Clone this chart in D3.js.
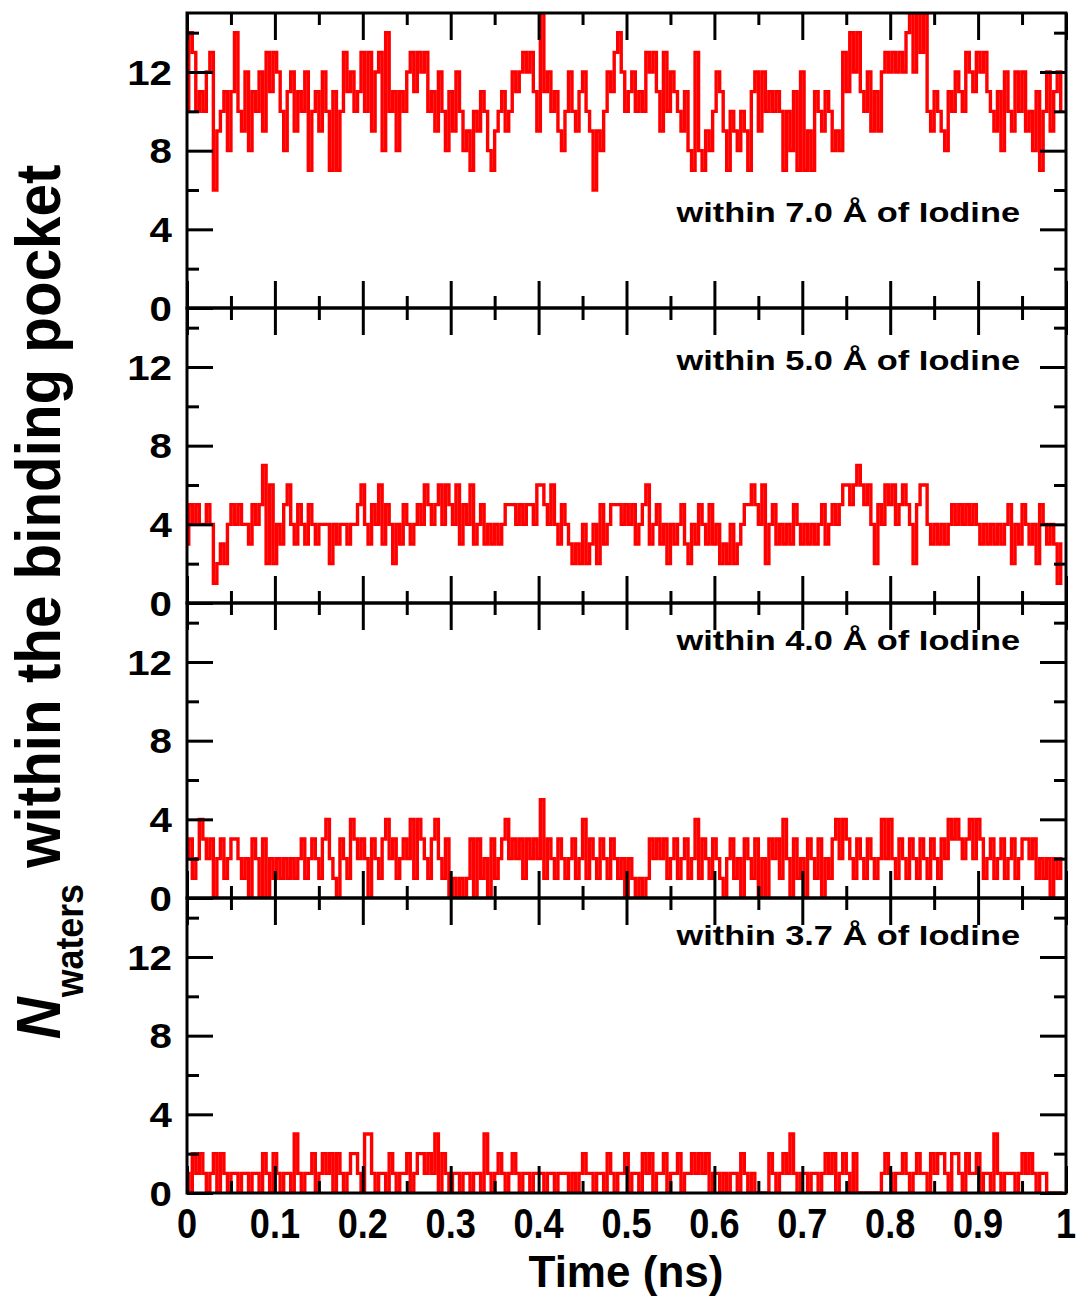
<!DOCTYPE html>
<html>
<head>
<meta charset="utf-8">
<script src="https://cdn.jsdelivr.net/npm/d3@7"></script>
<style>
  body { margin: 0; background: #fff; }
  svg text { font-family: "Liberation Sans", Arial, Helvetica, sans-serif; font-weight: bold; fill: #000; }
</style>
</head>
<body>
<div id="chart"></div>
<script>
// ------------------------------------------------------------
// N waters within the binding pocket vs time, four cut-offs
// ------------------------------------------------------------

// frames are read every 0.004 ns from the trace
const dt = 0.004;

// within 7.0 A
const within70 = [
  10,14,13,10,11,10,12,13,6,9,   10,11,8,11,14,10,9,12,8,11,
  10,12,9,13,11,13,12,10,8,11,   12,9,11,10,12,7,10,11,9,12,
  10,7,11,7,10,13,11,12,10,11,   13,10,13,9,12,13,8,14,10,11,
  8,11,10,12,13,11,13,12,13,10,  11,9,12,10,8,11,9,12,10,8,
  9,7,10,9,11,10,8,7,9,10,       11,9,10,12,11,12,13,12,13,11,
  9,15,11,12,10,11,9,8,10,12,    10,9,11,12,10,9,6,9,8,10,
  12,11,13,14,12,10,11,12,10,11, 10,13,12,13,11,9,13,10,12,11,
  10,9,11,8,7,13,8,7,9,8,        10,12,11,9,7,10,9,8,10,9,
  7,11,12,9,12,10,11,10,11,10,   7,10,8,11,7,12,7,9,7,11,
  10,9,11,10,8,9,8,13,11,14,     12,14,11,10,12,9,11,9,12,13,
  12,13,12,13,12,14,15,12,15,13, 15,10,9,11,10,9,8,11,10,12,
  11,10,13,12,11,13,12,13,11,10, 9,11,8,12,10,9,12,10,12,9,
  10,8,11,7,10,12,9,11,12,10
];

// within 5.0 A
const within50 = [
  3,5,4,5,4,4,5,4,1,2,  3,2,4,5,4,5,4,4,3,5,
  4,5,7,2,6,2,4,3,5,6,  4,3,5,4,3,5,4,3,4,4,
  4,2,4,3,4,4,3,4,4,5,  6,4,3,5,4,6,3,5,4,2,
  4,3,5,4,3,4,5,4,6,5,  4,5,6,4,6,5,4,6,3,5,
  4,6,3,4,5,3,4,3,4,3,  4,5,5,5,4,5,4,5,5,4,
  6,6,5,4,6,4,3,5,4,3,  2,3,2,4,2,3,4,2,5,3,
  4,5,5,5,4,5,4,5,3,4,  5,6,3,4,5,3,4,2,4,3,
  4,5,3,2,4,3,5,4,3,5,  3,4,2,3,2,4,2,3,4,5,
  5,6,5,4,6,2,4,5,3,4,  3,4,3,5,4,3,4,3,4,3,
  4,5,3,4,5,4,5,6,6,5,  6,7,6,5,6,4,2,5,4,6,
  5,6,4,5,6,5,4,2,5,6,  6,4,3,4,3,4,3,4,5,4,
  5,4,5,4,5,4,3,4,3,4,  3,4,3,4,5,2,4,3,5,4,
  3,4,2,5,4,3,4,3,1,3
];

// within 4.0 A
const within40 = [
  2,3,1,2,4,3,2,3,0,2,  3,1,2,3,3,2,1,2,0,3,
  2,0,3,0,2,1,2,1,2,1,  2,1,2,3,1,2,3,2,1,3,
  4,2,1,0,3,2,1,4,3,2,  3,2,0,3,2,1,3,4,2,3,
  1,2,3,2,4,1,4,3,2,1,  3,4,2,1,3,0,1,0,1,0,
  1,3,0,3,1,2,0,3,1,2,  3,4,2,3,2,3,1,3,2,3,
  2,5,1,3,2,1,3,2,1,2,  3,1,2,4,1,3,2,1,3,2,
  1,3,2,1,2,0,2,1,0,1,  0,1,3,2,3,2,3,1,2,3,
  1,2,3,1,2,4,1,3,2,1,  3,2,1,0,2,3,1,2,0,3,
  2,1,3,0,2,0,3,2,3,1,  4,2,0,3,1,2,0,3,2,1,
  3,0,2,1,3,4,2,4,3,2,  1,3,2,1,3,2,1,2,4,2,
  4,2,1,3,2,1,3,2,1,3,  2,1,3,2,1,3,2,4,3,4,
  3,2,3,4,2,4,3,1,2,3,  1,2,3,1,2,3,1,2,3,3,
  2,3,1,2,1,2,0,2,1,2
];

// within 3.7 A
const within37 = [
  1,0,2,1,2,1,0,1,2,0,  2,1,0,1,1,0,1,1,0,1,
  1,0,2,1,0,2,1,0,1,1,  0,3,1,0,1,1,2,0,1,2,
  1,2,0,2,1,0,1,2,2,1,  0,3,3,1,0,1,1,0,2,1,
  0,1,1,2,0,1,2,2,1,2,  1,3,0,2,1,0,1,1,0,1,
  1,0,1,1,0,3,1,0,1,2,  1,0,1,2,1,0,1,1,0,1,
  1,1,0,1,1,0,1,1,1,0,  1,0,1,2,1,1,0,1,1,0,
  2,1,0,1,1,2,0,1,1,0,  2,1,2,0,1,1,2,0,1,1,
  2,0,1,1,2,1,2,1,2,0,  1,1,0,1,0,1,1,0,2,1,
  0,1,0,0,0,0,2,1,0,1,  2,1,3,1,0,1,1,0,1,1,
  0,1,2,1,2,0,1,2,1,0,  2,0,0,0,0,0,0,0,1,2,
  1,0,1,1,2,1,0,1,2,1,  1,0,2,1,2,2,1,0,2,2,
  1,0,2,1,1,2,0,1,1,0,  3,1,0,1,1,1,0,1,2,1,
  2,1,0,1,1,0,0,0,0,0
];

const panelSeries = [within70, within50, within40, within37];
const panelLabels = [
  "within 7.0 Å of Iodine",
  "within 5.0 Å of Iodine",
  "within 4.0 Å of Iodine",
  "within 3.7 Å of Iodine"
];

const xTicks = [0, 0.1, 0.2, 0.3, 0.4, 0.5, 0.6, 0.7, 0.8, 0.9, 1];
const xTickLabels = ["0", "0.1", "0.2", "0.3", "0.4", "0.5", "0.6", "0.7", "0.8", "0.9", "1"];
const xMinorTicks = [0.05, 0.15, 0.25, 0.35, 0.45, 0.55, 0.65, 0.75, 0.85, 0.95];
const yTicks = [0, 4, 8, 12];
const yMinorTicks = [2, 6, 10, 14];

// layout (pixels)
const W = 1080, H = 1297;
const plotLeft = 187, plotRight = 1066;
const firstTop = 13, panelH = 295;
const labelBaselines = [222, 370, 650, 945];

const svg = d3.select("#chart").append("svg")
    .attr("width", W)
    .attr("height", H);

const x = d3.scaleLinear().domain([0, 1]).range([plotLeft, plotRight]);

// stretch/squeeze a text node so its box is targetW wide
function fitText(textSel, targetW) {
    const w = textSel.node().getBBox().width;
    textSel.attr("transform", `scale(${targetW / w},1)`);
}

const defs = svg.append("defs");

panelSeries.forEach((series, i) => {
    const top = firstTop + i * panelH;
    const y = d3.scaleLinear().domain([0, 15]).range([top + panelH, top]);

    defs.append("clipPath").attr("id", "clip" + i)
        .append("rect")
        .attr("x", plotLeft).attr("y", top)
        .attr("width", plotRight - plotLeft).attr("height", panelH);

    const line = d3.line()
        .x((d, j) => x(j * dt))
        .y(d => y(d))
        .curve(d3.curveStep);

    svg.append("path")
        .datum(series)
        .attr("clip-path", `url(#clip${i})`)
        .attr("fill", "none")
        .attr("stroke", "#ff0000")
        .attr("stroke-width", 3.4)
        .attr("d", line);

    // inward ticks on all four sides
    const g = svg.append("g").attr("class", "ticks");
    const tickStyle = sel => {
        sel.select(".domain").remove();
        sel.selectAll("text").remove();
        sel.selectAll("line").attr("stroke", "#000").attr("stroke-width", 3);
    };
    g.append("g").attr("transform", `translate(0,${top + panelH})`)
        .call(d3.axisBottom(x).tickValues(xTicks).tickSize(-27)).call(tickStyle);
    g.append("g").attr("transform", `translate(0,${top + panelH})`)
        .call(d3.axisBottom(x).tickValues(xMinorTicks).tickSize(-12)).call(tickStyle);
    g.append("g").attr("transform", `translate(0,${top})`)
        .call(d3.axisTop(x).tickValues(xTicks).tickSize(-27)).call(tickStyle);
    g.append("g").attr("transform", `translate(0,${top})`)
        .call(d3.axisTop(x).tickValues(xMinorTicks).tickSize(-12)).call(tickStyle);
    g.append("g").attr("transform", `translate(${plotLeft},0)`)
        .call(d3.axisLeft(y).tickValues(yTicks).tickSize(-26)).call(tickStyle);
    g.append("g").attr("transform", `translate(${plotLeft},0)`)
        .call(d3.axisLeft(y).tickValues(yMinorTicks).tickSize(-12)).call(tickStyle);
    g.append("g").attr("transform", `translate(${plotRight},0)`)
        .call(d3.axisRight(y).tickValues(yTicks).tickSize(-26)).call(tickStyle);
    g.append("g").attr("transform", `translate(${plotRight},0)`)
        .call(d3.axisRight(y).tickValues(yMinorTicks).tickSize(-12)).call(tickStyle);

    // frame
    svg.append("rect")
        .attr("x", plotLeft).attr("y", top)
        .attr("width", plotRight - plotLeft).attr("height", panelH)
        .attr("fill", "none")
        .attr("stroke", "#000")
        .attr("stroke-width", 3);

    // y tick labels
    yTicks.forEach(v => {
        const t = svg.append("g")
            .attr("transform", `translate(172,${y(v) + 12.5})`)
            .append("text")
            .attr("text-anchor", "end")
            .style("font-size", "35px")
            .text(v);
        t.attr("transform", "scale(1.15,1)");
    });

    // panel label
    const lab = svg.append("g")
        .attr("transform", `translate(1020,${labelBaselines[i]})`)
        .append("text")
        .attr("text-anchor", "end")
        .style("font-size", "27px")
        .text(panelLabels[i]);
    fitText(lab, 345);
});

// x tick labels (bottom panel only), condensed
xTicks.forEach((v, k) => {
    const t = svg.append("g")
        .attr("transform", `translate(${x(v)},1238)`)
        .append("text")
        .attr("text-anchor", "middle")
        .style("font-size", "42px")
        .text(xTickLabels[k]);
    t.attr("transform", "scale(0.86,1)");
});

// x axis title
const xTitle = svg.append("g")
    .attr("transform", "translate(626,1287)")
    .append("text")
    .attr("text-anchor", "middle")
    .style("font-size", "44px")
    .text("Time (ns)");
fitText(xTitle, 195);

// y axis title: N_waters within the binding pocket
const yTitle = svg.append("g")
    .attr("transform", "translate(60,602) rotate(-90)")
    .append("text")
    .attr("text-anchor", "middle")
    .style("font-size", "62px");
yTitle.append("tspan").style("font-style", "italic").text("N");
yTitle.append("tspan").style("font-size", "38px").attr("dy", 23).text("waters");
yTitle.append("tspan").attr("dy", -23).text(" within the binding pocket");
fitText(yTitle, 875);
</script>
</body>
</html>
